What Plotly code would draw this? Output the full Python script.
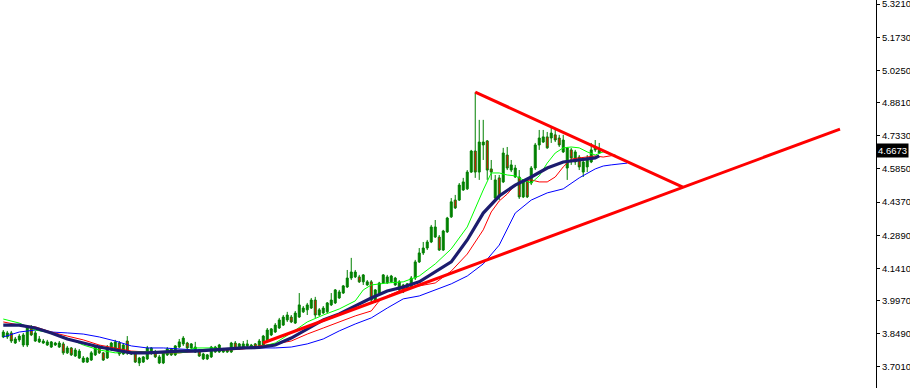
import plotly.graph_objects as go

# ---------------- data ----------------
open_ = [3.835,3.835,3.853,3.808,3.822,3.799,3.799,3.875,3.817,3.813,
         3.808,3.799,3.790,3.799,3.790,3.804,3.764,3.786,3.750,3.741,
         3.723,3.723,3.732,3.755,3.790,3.764,3.741,3.781,3.777,3.808,
         3.759,3.817,3.759,3.764,3.719,3.723,3.737,3.764,3.768,3.719,
         3.719,3.755,3.781,3.755,3.790,3.804,3.808,3.786,3.768,3.777,
         3.737,3.737,3.746,3.768,3.768,3.768,3.768,3.768,3.808,3.781,
         3.790,3.795,3.786,3.804,3.790,3.799,3.822,3.844,3.857,3.875,
         3.888,3.911,3.924,3.897,3.924,3.947,3.956,3.964,4.000,3.933,
         3.942,3.947,3.978,3.987,4.009,4.031,4.058,4.098,4.103,4.103,
         4.081,4.067,4.081,3.991,4.031,4.076,4.076,4.081,4.067,4.045,
         4.067,4.054,4.054,4.098,4.170,4.210,4.232,4.259,4.281,4.281,
         4.223,4.304,4.371,4.446,4.446,4.491,4.496,4.571,4.665,4.571,
         4.692,4.710,4.585,4.455,4.545,4.527,4.647,4.580,4.549,4.549,
         4.460,4.531,4.522,4.589,4.692,4.705,4.728,4.723,4.737,4.723,
         4.661,4.589,4.670,4.616,4.638,4.571,4.594,4.616,4.670,4.656]
high_ = [3.866,3.862,3.862,3.835,3.848,3.853,3.888,3.888,3.862,3.839,
         3.826,3.822,3.817,3.813,3.817,3.813,3.795,3.790,3.786,3.781,
         3.750,3.746,3.772,3.799,3.799,3.768,3.799,3.813,3.822,3.817,
         3.808,3.839,3.772,3.768,3.746,3.750,3.795,3.790,3.777,3.755,
         3.772,3.790,3.786,3.799,3.826,3.839,3.813,3.808,3.813,3.781,
         3.764,3.759,3.795,3.795,3.804,3.786,3.786,3.813,3.817,3.808,
         3.817,3.822,3.804,3.808,3.826,3.844,3.875,3.875,3.897,3.920,
         3.933,3.947,3.933,3.951,4.031,3.973,3.987,4.009,4.014,3.964,
         3.973,3.991,4.031,4.049,4.045,4.067,4.134,4.188,4.134,4.112,
         4.116,4.089,4.089,4.049,4.081,4.116,4.112,4.112,4.103,4.089,
         4.072,4.076,4.107,4.179,4.232,4.259,4.268,4.335,4.357,4.290,
         4.313,4.371,4.455,4.469,4.522,4.545,4.580,4.670,4.928,4.804,
         4.804,4.714,4.625,4.558,4.558,4.679,4.683,4.625,4.603,4.580,
         4.536,4.545,4.598,4.701,4.759,4.759,4.750,4.772,4.768,4.737,
         4.737,4.683,4.679,4.670,4.647,4.625,4.647,4.701,4.714,4.701]
low_ = [3.830,3.826,3.808,3.804,3.813,3.790,3.790,3.839,3.813,3.808,
        3.804,3.795,3.786,3.795,3.786,3.755,3.759,3.750,3.746,3.737,
        3.719,3.719,3.728,3.750,3.759,3.728,3.737,3.772,3.772,3.750,
        3.755,3.755,3.755,3.719,3.705,3.719,3.732,3.755,3.741,3.714,
        3.714,3.750,3.750,3.750,3.786,3.795,3.781,3.781,3.764,3.746,
        3.732,3.732,3.741,3.764,3.764,3.764,3.764,3.764,3.777,3.777,
        3.786,3.790,3.781,3.781,3.786,3.795,3.817,3.839,3.853,3.871,
        3.884,3.902,3.897,3.893,3.920,3.942,3.933,3.960,3.920,3.929,
        3.938,3.942,3.973,3.982,4.005,4.027,4.054,4.089,4.098,4.076,
        4.067,4.063,3.991,3.987,4.027,4.072,4.072,4.076,4.063,4.031,
        4.031,4.049,4.049,4.089,4.165,4.201,4.223,4.254,4.277,4.219,
        4.219,4.299,4.366,4.406,4.442,4.487,4.491,4.567,4.545,4.536,
        4.625,4.536,4.536,4.446,4.446,4.522,4.580,4.571,4.545,4.451,
        4.455,4.455,4.513,4.580,4.670,4.701,4.675,4.701,4.705,4.683,
        4.656,4.536,4.603,4.603,4.580,4.549,4.571,4.611,4.661,4.652]
close_ = [3.857,3.853,3.817,3.826,3.839,3.844,3.880,3.844,3.853,3.826,
          3.817,3.813,3.813,3.808,3.808,3.764,3.786,3.755,3.777,3.772,
          3.741,3.741,3.764,3.790,3.764,3.732,3.790,3.808,3.813,3.759,
          3.799,3.764,3.768,3.723,3.741,3.746,3.786,3.786,3.746,3.746,
          3.764,3.781,3.755,3.795,3.813,3.830,3.786,3.804,3.790,3.750,
          3.759,3.755,3.790,3.790,3.799,3.781,3.781,3.808,3.781,3.804,
          3.804,3.804,3.799,3.786,3.817,3.839,3.866,3.871,3.888,3.911,
          3.924,3.933,3.902,3.942,3.978,3.964,3.978,4.000,3.933,3.956,
          3.964,3.987,4.000,4.045,4.036,4.063,4.098,4.125,4.125,4.081,
          4.112,4.081,4.000,4.045,4.076,4.112,4.103,4.107,4.098,4.081,
          4.036,4.072,4.098,4.170,4.210,4.232,4.259,4.326,4.326,4.223,
          4.308,4.366,4.438,4.411,4.513,4.527,4.571,4.665,4.571,4.705,
          4.705,4.580,4.571,4.536,4.460,4.656,4.589,4.603,4.589,4.460,
          4.527,4.460,4.589,4.692,4.723,4.728,4.679,4.745,4.714,4.692,
          4.714,4.679,4.634,4.661,4.594,4.616,4.634,4.670,4.683,4.6673]
bars = list(range(len(open_)))

# moving-average style lines (sampled bar index, price)
navy_idx = [0,4,8,12,16,20,24,28,32,36,40,44,48,52,56,60,64,68,72,76,
            80,84,88,92,96,100,104,108,112,116,120,124,128,132,136,140,144,148,149]
navy_val = [3.888,3.888,3.875,3.853,3.826,3.808,3.790,3.777,3.764,3.764,
            3.768,3.772,3.772,3.777,3.781,3.786,3.788,3.799,3.830,3.871,
            3.911,3.938,3.973,4.009,4.040,4.058,4.081,4.125,4.170,4.268,
            4.388,4.464,4.513,4.549,4.589,4.616,4.625,4.634,4.643]

green_idx = [0,4,8,12,16,20,24,28,32,36,40,44,46,47,48,52,56,60,64,68,
             72,76,80,84,88,90,92,96,100,104,108,112,116,120,122,124,126,128,
             130,132,134,136,138,140,142,144,146,148,150,151,152,153]
green_val = [3.915,3.897,3.866,3.853,3.830,3.799,3.777,3.764,3.768,3.768,
             3.764,3.764,3.768,3.781,3.786,3.786,3.781,3.786,3.790,3.808,
             3.853,3.902,3.933,3.960,3.996,4.045,4.067,4.076,4.081,4.107,
             4.161,4.228,4.326,4.491,4.567,4.567,4.558,4.554,4.536,4.522,
             4.554,4.611,4.656,4.679,4.683,4.679,4.661,4.647,4.661,4.656,
             4.647,4.647]

red_idx = [0,4,8,12,16,20,24,28,32,36,40,44,48,52,56,60,64,68,72,76,
           80,84,88,92,94,96,100,104,108,112,116,120,122,124,126,128,130,132,
           134,136,138,140,142,144,146,148,150,152,153]
red_val = [3.902,3.888,3.880,3.857,3.839,3.822,3.799,3.786,3.772,3.768,
           3.764,3.764,3.772,3.777,3.777,3.781,3.795,3.804,3.817,3.848,
           3.875,3.902,3.929,3.951,3.996,4.018,4.049,4.063,4.076,4.129,
           4.205,4.313,4.393,4.442,4.473,4.513,4.531,4.536,4.527,4.527,
           4.549,4.594,4.629,4.634,4.638,4.643,4.638,4.643,4.647]

blue_idx = [0,4,8,12,16,20,24,28,32,36,40,44,48,52,56,60,64,68,72,76,
            80,84,88,92,96,100,104,108,112,116,120,124,128,132,136,140,144,148,
            150,152,154,156]
blue_val = [3.835,3.857,3.866,3.857,3.853,3.848,3.835,3.817,3.795,3.786,
            3.786,3.781,3.777,3.781,3.781,3.786,3.786,3.786,3.790,3.804,
            3.826,3.862,3.893,3.920,3.964,4.005,4.018,4.045,4.072,4.107,
            4.161,4.245,4.388,4.446,4.478,4.496,4.545,4.585,4.598,4.603,
            4.607,4.611]

# trend lines (bar index, price)
down_idx = [118.0, 169.9]
down_val = [4.928, 4.504]
up_idx = [64.9, 209.2]
up_val = [3.808, 4.763]

tick_vals = [5.3210, 5.1730, 5.0250, 4.8810, 4.7330, 4.5850, 4.4370,
             4.2890, 4.1410, 3.9970, 3.8490, 3.7010]
tick_text = ["5.3210", "5.1730", "5.0250", "4.8810", "4.7330", "4.5850",
             "4.4370", "4.2890", "4.1410", "3.9970", "3.8490", "3.7010"]
last_price = 4.6673

# ---------------- figure ----------------
fig = go.Figure()
fig.add_trace(go.Candlestick(
    x=bars, open=open_, high=high_, low=low_, close=close_,
    increasing=dict(line=dict(color="#008000", width=1), fillcolor="#008000"),
    decreasing=dict(line=dict(color="#008000", width=1), fillcolor="#ff0000"),
    whiskerwidth=0, hoverinfo="skip", showlegend=False))

fig.add_trace(go.Scatter(x=blue_idx, y=blue_val, mode="lines",
                         line=dict(color="#0000ff", width=1), showlegend=False, hoverinfo="skip"))
fig.add_trace(go.Scatter(x=red_idx, y=red_val, mode="lines",
                         line=dict(color="#ff0000", width=1), showlegend=False, hoverinfo="skip"))
fig.add_trace(go.Scatter(x=green_idx, y=green_val, mode="lines",
                         line=dict(color="#00ff00", width=1), showlegend=False, hoverinfo="skip"))
fig.add_trace(go.Scatter(x=navy_idx, y=navy_val, mode="lines",
                         line=dict(color="#1c1c6e", width=3.2), showlegend=False, hoverinfo="skip"))
fig.add_trace(go.Scatter(x=down_idx, y=down_val, mode="lines",
                         line=dict(color="#ff0000", width=3), showlegend=False, hoverinfo="skip"))
fig.add_trace(go.Scatter(x=up_idx, y=up_val, mode="lines",
                         line=dict(color="#ff0000", width=3), showlegend=False, hoverinfo="skip"))

fig.add_annotation(x=1, xref="paper", xanchor="left", xshift=0,
                   y=last_price, yref="y", yanchor="middle",
                   text=f"{last_price:.4f}", showarrow=False,
                   bgcolor="#000000", borderpad=1,
                   font=dict(family="Liberation Sans", size=9.5, color="#ffffff"))

fig.update_layout(
    width=910, height=388,
    margin=dict(l=0, r=34, t=0, b=0),
    paper_bgcolor="#ffffff", plot_bgcolor="#ffffff",
    xaxis=dict(range=[-0.82, 218.2], visible=False, rangeslider=dict(visible=False),
               fixedrange=True),
    yaxis=dict(range=[3.6072, 5.339], side="right", showline=True, linecolor="#000000",
               linewidth=1, ticks="outside", ticklen=3, tickcolor="#000000",
               tickvals=tick_vals, ticktext=tick_text, showgrid=False, zeroline=False,
               automargin=False, ticklabeloverflow="allow", ticklabelstandoff=0,
               tickfont=dict(family="Liberation Sans", size=9.5, color="#000000")),
)

fig.write_html("out.html")
